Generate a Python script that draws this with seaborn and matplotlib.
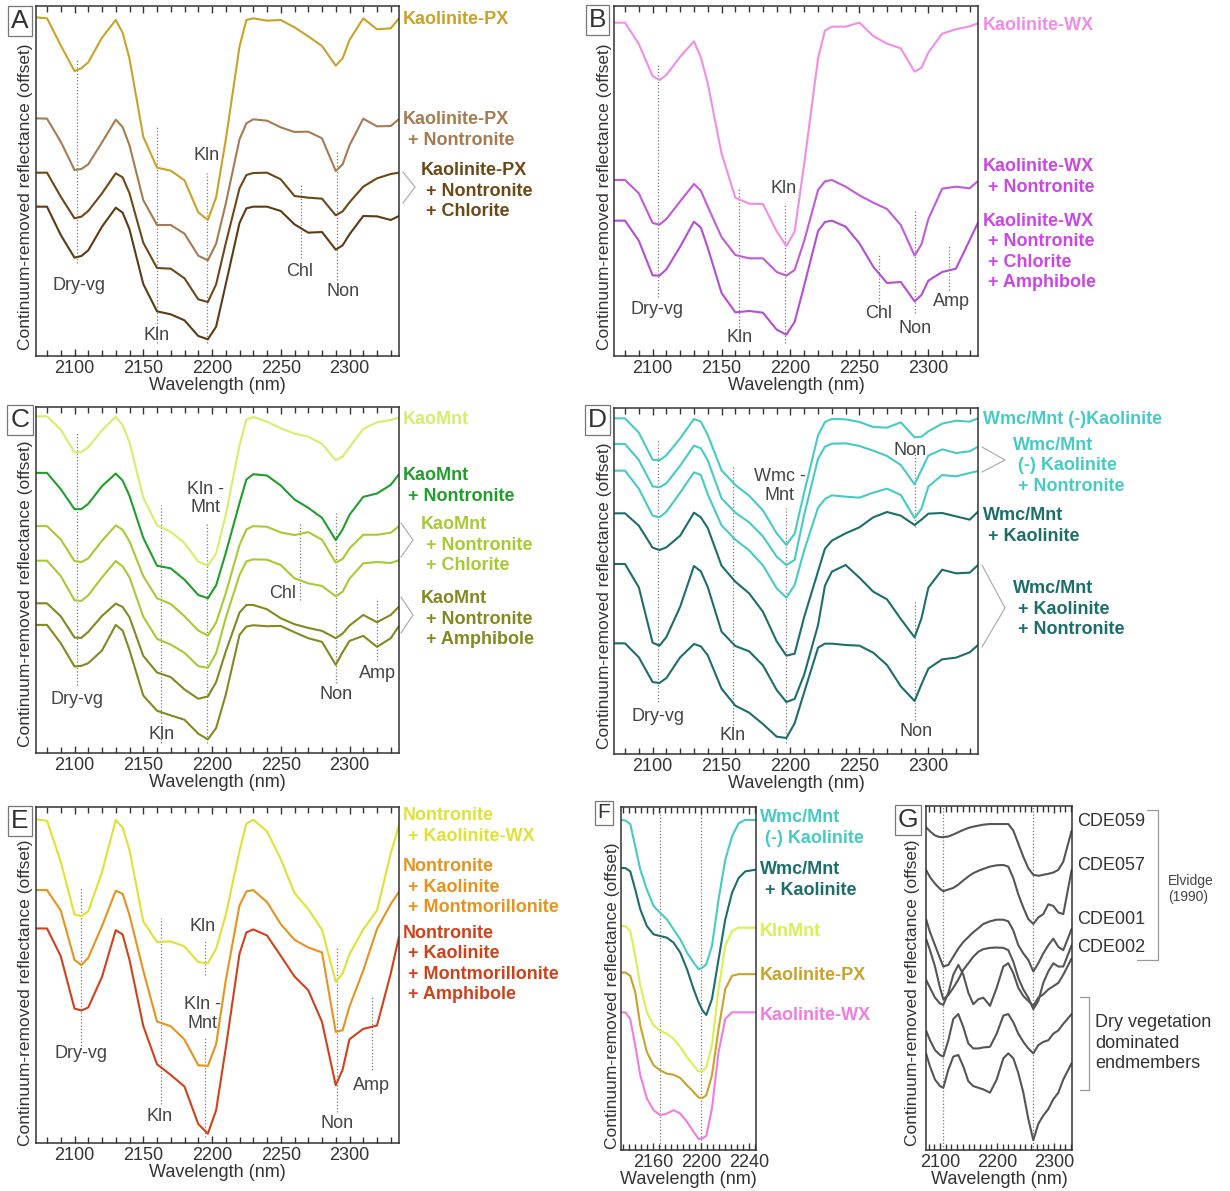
import matplotlib
matplotlib.use("Agg")
import matplotlib.pyplot as plt
from matplotlib.ticker import MultipleLocator
from matplotlib.lines import Line2D
import seaborn as sns

sns.set_theme(style="ticks")
plt.rcParams["font.family"] = ["Liberation Sans", "DejaVu Sans"]

# ---------------------------------------------------------------- data
# shared wavelength grid (nm) for panels A-E
WL = [2072, 2080, 2090, 2100, 2105, 2110, 2120, 2130, 2135, 2140, 2150, 2160,
      2170, 2180, 2190, 2197, 2203, 2210, 2220, 2225, 2230, 2240, 2250, 2260,
      2270, 2280, 2290, 2295, 2300, 2310, 2320, 2330, 2336]

# A: Kaolinite-PX group
A_kaolinite_px = [1.016, 1.013, 0.932, 0.855, 0.863, 0.881, 0.955, 1.008, 0.970, 0.892, 0.658, 0.565, 0.556, 0.527, 0.431, 0.408, 0.476, 0.648, 0.928, 1.008, 1.013, 1.006, 1.008, 0.986, 0.959, 0.930, 0.871, 0.893, 0.948, 1.013, 0.980, 0.983, 1.013]
A_kaolinite_px_non = [0.713, 0.712, 0.643, 0.558, 0.561, 0.575, 0.641, 0.709, 0.687, 0.632, 0.468, 0.393, 0.393, 0.367, 0.301, 0.287, 0.337, 0.457, 0.650, 0.698, 0.710, 0.706, 0.686, 0.672, 0.673, 0.653, 0.555, 0.575, 0.632, 0.712, 0.689, 0.690, 0.711]
A_kaolinite_px_non_chl_1 = [0.550, 0.550, 0.478, 0.413, 0.418, 0.435, 0.488, 0.548, 0.536, 0.488, 0.340, 0.264, 0.262, 0.233, 0.170, 0.162, 0.215, 0.338, 0.503, 0.543, 0.549, 0.550, 0.530, 0.480, 0.475, 0.472, 0.422, 0.434, 0.461, 0.508, 0.533, 0.546, 0.550]
A_kaolinite_px_non_chl_2 = [0.448, 0.448, 0.363, 0.295, 0.300, 0.317, 0.388, 0.445, 0.430, 0.380, 0.216, 0.134, 0.125, 0.107, 0.060, 0.050, 0.088, 0.215, 0.399, 0.443, 0.448, 0.448, 0.435, 0.395, 0.370, 0.372, 0.319, 0.332, 0.365, 0.420, 0.419, 0.408, 0.420]

# B: Kaolinite-WX group
B_kaolinite_wx = [1.000, 1.000, 0.936, 0.840, 0.828, 0.843, 0.898, 0.944, 0.896, 0.818, 0.608, 0.475, 0.457, 0.456, 0.374, 0.330, 0.373, 0.578, 0.893, 0.976, 0.988, 0.988, 1.000, 0.960, 0.937, 0.923, 0.853, 0.865, 0.910, 0.967, 0.980, 0.989, 0.998]
B_kaolinite_wx_non = [0.528, 0.528, 0.488, 0.399, 0.394, 0.411, 0.464, 0.516, 0.496, 0.448, 0.357, 0.303, 0.293, 0.293, 0.252, 0.241, 0.258, 0.346, 0.498, 0.524, 0.528, 0.508, 0.482, 0.460, 0.441, 0.393, 0.301, 0.335, 0.411, 0.502, 0.508, 0.503, 0.525]
B_kaolinite_wx_non_chl_amp = [0.406, 0.406, 0.346, 0.242, 0.241, 0.260, 0.328, 0.403, 0.385, 0.325, 0.189, 0.131, 0.135, 0.130, 0.079, 0.064, 0.102, 0.212, 0.375, 0.402, 0.406, 0.388, 0.338, 0.268, 0.219, 0.222, 0.164, 0.183, 0.226, 0.252, 0.262, 0.348, 0.400]

# C: KaoMnt group
C_kaomnt = [1.012, 1.012, 0.972, 0.904, 0.905, 0.919, 0.970, 1.011, 0.985, 0.934, 0.768, 0.684, 0.665, 0.631, 0.575, 0.563, 0.600, 0.715, 0.924, 1.002, 1.010, 0.996, 0.976, 0.960, 0.951, 0.929, 0.880, 0.891, 0.919, 0.974, 0.994, 1.001, 1.008]
C_kaomnt_non = [0.842, 0.842, 0.793, 0.733, 0.733, 0.749, 0.802, 0.840, 0.819, 0.773, 0.647, 0.563, 0.555, 0.521, 0.475, 0.465, 0.504, 0.601, 0.751, 0.822, 0.838, 0.834, 0.804, 0.762, 0.737, 0.707, 0.640, 0.672, 0.716, 0.770, 0.780, 0.806, 0.838]
C_kaomnt_non_chl_1 = [0.682, 0.682, 0.642, 0.577, 0.574, 0.585, 0.638, 0.684, 0.671, 0.636, 0.532, 0.465, 0.448, 0.411, 0.368, 0.353, 0.392, 0.480, 0.625, 0.672, 0.682, 0.680, 0.663, 0.655, 0.664, 0.641, 0.572, 0.583, 0.615, 0.656, 0.656, 0.662, 0.682]
C_kaomnt_non_chl_2 = [0.578, 0.578, 0.532, 0.459, 0.457, 0.474, 0.528, 0.577, 0.561, 0.528, 0.410, 0.343, 0.326, 0.301, 0.261, 0.256, 0.300, 0.406, 0.535, 0.576, 0.582, 0.581, 0.565, 0.525, 0.510, 0.502, 0.471, 0.485, 0.524, 0.570, 0.574, 0.571, 0.580]
C_kaomnt_non_amp_1 = [0.450, 0.450, 0.411, 0.347, 0.346, 0.364, 0.412, 0.449, 0.439, 0.408, 0.292, 0.242, 0.228, 0.191, 0.163, 0.170, 0.213, 0.305, 0.422, 0.445, 0.445, 0.432, 0.405, 0.387, 0.376, 0.367, 0.345, 0.359, 0.383, 0.415, 0.393, 0.415, 0.440]
C_kaomnt_non_amp_2 = [0.385, 0.385, 0.330, 0.260, 0.262, 0.270, 0.308, 0.385, 0.368, 0.309, 0.173, 0.127, 0.113, 0.100, 0.058, 0.041, 0.075, 0.175, 0.355, 0.380, 0.384, 0.381, 0.382, 0.363, 0.345, 0.334, 0.265, 0.303, 0.337, 0.352, 0.319, 0.345, 0.382]

# D: Wmc/Mnt group
D_wmc_kln = [1.007, 1.007, 0.964, 0.883, 0.881, 0.896, 0.947, 1.005, 0.997, 0.957, 0.851, 0.807, 0.775, 0.731, 0.662, 0.627, 0.661, 0.786, 0.956, 0.996, 1.005, 1.004, 0.996, 0.981, 0.979, 0.995, 0.950, 0.952, 0.968, 0.991, 1.000, 0.997, 1.007]
D_wmc_kln_non_1 = [0.930, 0.930, 0.882, 0.803, 0.800, 0.812, 0.865, 0.925, 0.917, 0.881, 0.767, 0.724, 0.695, 0.653, 0.592, 0.567, 0.582, 0.719, 0.886, 0.922, 0.931, 0.932, 0.924, 0.910, 0.894, 0.867, 0.809, 0.852, 0.895, 0.914, 0.903, 0.908, 0.922]
D_wmc_kln_non_2 = [0.850, 0.850, 0.796, 0.715, 0.710, 0.727, 0.784, 0.845, 0.837, 0.779, 0.686, 0.643, 0.611, 0.566, 0.497, 0.469, 0.507, 0.612, 0.739, 0.765, 0.776, 0.772, 0.769, 0.784, 0.796, 0.777, 0.708, 0.736, 0.802, 0.837, 0.833, 0.843, 0.849]
D_wmc_plus_kln = [0.722, 0.722, 0.685, 0.619, 0.612, 0.620, 0.655, 0.724, 0.710, 0.678, 0.565, 0.517, 0.482, 0.427, 0.338, 0.295, 0.301, 0.412, 0.548, 0.616, 0.640, 0.662, 0.680, 0.710, 0.726, 0.715, 0.687, 0.703, 0.721, 0.723, 0.713, 0.703, 0.727]
D_wmc_plus_kln_non_1 = [0.570, 0.570, 0.500, 0.334, 0.325, 0.351, 0.442, 0.564, 0.548, 0.501, 0.367, 0.324, 0.308, 0.266, 0.192, 0.156, 0.165, 0.239, 0.387, 0.505, 0.547, 0.567, 0.529, 0.487, 0.464, 0.405, 0.350, 0.407, 0.499, 0.553, 0.542, 0.544, 0.567]
D_wmc_plus_kln_non_2 = [0.332, 0.332, 0.290, 0.216, 0.213, 0.228, 0.290, 0.330, 0.323, 0.296, 0.196, 0.145, 0.124, 0.090, 0.052, 0.048, 0.092, 0.186, 0.319, 0.331, 0.331, 0.327, 0.325, 0.304, 0.267, 0.203, 0.159, 0.209, 0.256, 0.284, 0.289, 0.305, 0.327]

# E: Nontronite group
E_non_kwx = [0.970, 0.966, 0.843, 0.685, 0.680, 0.694, 0.812, 0.968, 0.945, 0.878, 0.664, 0.602, 0.604, 0.589, 0.542, 0.539, 0.582, 0.683, 0.875, 0.957, 0.969, 0.934, 0.851, 0.749, 0.701, 0.639, 0.483, 0.508, 0.566, 0.640, 0.697, 0.868, 0.953]
E_non_kln_mnt = [0.758, 0.758, 0.697, 0.549, 0.533, 0.555, 0.650, 0.756, 0.747, 0.683, 0.517, 0.364, 0.350, 0.310, 0.233, 0.231, 0.296, 0.487, 0.712, 0.754, 0.758, 0.722, 0.656, 0.609, 0.586, 0.571, 0.333, 0.338, 0.409, 0.517, 0.641, 0.716, 0.753]
E_non_kln_mnt_amp = [0.643, 0.643, 0.560, 0.403, 0.397, 0.406, 0.498, 0.638, 0.625, 0.549, 0.351, 0.236, 0.204, 0.169, 0.057, 0.028, 0.098, 0.284, 0.567, 0.631, 0.640, 0.622, 0.561, 0.499, 0.458, 0.363, 0.173, 0.220, 0.311, 0.342, 0.352, 0.508, 0.618]

# F: 2200 nm feature of the main endmembers
WL_F = [2133.1, 2136.7, 2140.8, 2145.0, 2149.2, 2154.7, 2160.3, 2165.8, 2171.4, 2176.9, 2182.5, 2188.1,
        2193.6, 2197.8, 2201.1, 2204.2, 2208.9, 2214.4, 2220.0, 2225.6, 2231.1, 2236.7, 2245.6]
F_wmc_kln = [0.995, 0.993, 0.983, 0.915, 0.845, 0.785, 0.735, 0.715, 0.695, 0.665, 0.635, 0.595, 0.565, 0.545, 0.550, 0.560, 0.615, 0.755, 0.875, 0.945, 0.985, 0.995, 0.995]
F_wmc_plus_kln = [0.850, 0.850, 0.840, 0.785, 0.725, 0.675, 0.650, 0.645, 0.640, 0.625, 0.595, 0.545, 0.485, 0.445, 0.420, 0.407, 0.455, 0.575, 0.695, 0.775, 0.820, 0.840, 0.845]
F_klnmnt = [0.675, 0.675, 0.660, 0.585, 0.495, 0.415, 0.375, 0.360, 0.350, 0.335, 0.310, 0.280, 0.255, 0.237, 0.237, 0.250, 0.315, 0.485, 0.615, 0.660, 0.670, 0.670, 0.670]
F_kaolinite_px = [0.535, 0.535, 0.525, 0.475, 0.375, 0.295, 0.255, 0.240, 0.230, 0.227, 0.217, 0.195, 0.175, 0.158, 0.157, 0.165, 0.225, 0.365, 0.485, 0.525, 0.530, 0.530, 0.530]
F_kaolinite_wx = [0.415, 0.415, 0.395, 0.315, 0.225, 0.155, 0.120, 0.105, 0.110, 0.120, 0.110, 0.085, 0.055, 0.033, 0.035, 0.043, 0.125, 0.295, 0.395, 0.415, 0.415, 0.415, 0.415]

# G: dry plant material library spectra and dry-vegetation endmembers
WL_G = [2075.4, 2082.4, 2091.2, 2100.0, 2105.8, 2114.6, 2123.3, 2132.1, 2140.9, 2149.7, 2158.4, 2167.2,
        2176.0, 2187.7, 2199.4, 2211.1, 2219.8, 2228.6, 2237.4, 2246.2, 2254.9, 2263.7, 2272.5, 2281.2,
        2290.0, 2298.8, 2307.6, 2316.3, 2331.0]
G_cde059 = [0.985, 0.973, 0.960, 0.955, 0.955, 0.957, 0.963, 0.970, 0.977, 0.983, 0.987, 0.990, 0.993, 0.995, 0.995, 0.995, 0.995, 0.975, 0.935, 0.895, 0.860, 0.840, 0.837, 0.840, 0.843, 0.847, 0.855, 0.880, 0.975]
G_cde057 = [0.855, 0.833, 0.813, 0.797, 0.790, 0.795, 0.800, 0.810, 0.823, 0.835, 0.845, 0.852, 0.858, 0.865, 0.869, 0.870, 0.865, 0.830, 0.780, 0.740, 0.705, 0.690, 0.710, 0.720, 0.750, 0.745, 0.725, 0.720, 0.855]
G_cde001 = [0.705, 0.665, 0.625, 0.585, 0.560, 0.565, 0.590, 0.615, 0.635, 0.650, 0.665, 0.677, 0.690, 0.698, 0.703, 0.703, 0.698, 0.670, 0.625, 0.600, 0.580, 0.545, 0.570, 0.600, 0.625, 0.645, 0.620, 0.610, 0.675]
G_cde002 = [0.645, 0.610, 0.560, 0.495, 0.460, 0.473, 0.495, 0.520, 0.550, 0.570, 0.590, 0.605, 0.613, 0.617, 0.618, 0.617, 0.610, 0.575, 0.525, 0.490, 0.465, 0.430, 0.455, 0.510, 0.545, 0.570, 0.560, 0.560, 0.625]
G_dryveg_1 = [0.520, 0.495, 0.465, 0.447, 0.443, 0.480, 0.535, 0.565, 0.535, 0.480, 0.445, 0.460, 0.465, 0.440, 0.495, 0.560, 0.570, 0.540, 0.495, 0.470, 0.455, 0.440, 0.465, 0.475, 0.490, 0.500, 0.510, 0.535, 0.585]
G_dryveg_2 = [0.365, 0.335, 0.305, 0.290, 0.285, 0.335, 0.400, 0.415, 0.375, 0.325, 0.310, 0.310, 0.313, 0.315, 0.355, 0.410, 0.415, 0.390, 0.355, 0.330, 0.310, 0.295, 0.320, 0.330, 0.335, 0.355, 0.365, 0.385, 0.415]
G_dryveg_3 = [0.295, 0.255, 0.215, 0.195, 0.190, 0.245, 0.285, 0.290, 0.255, 0.210, 0.195, 0.190, 0.185, 0.175, 0.215, 0.280, 0.295, 0.280, 0.235, 0.175, 0.095, 0.030, 0.080, 0.105, 0.125, 0.155, 0.175, 0.215, 0.265]

# ---------------------------------------------------------------- colours
GOLD, TAN, BROWN, DKBROWN = "#c9a227", "#a57b4f", "#6e4716", "#5c3a12"
PINK, PURPLE, PURPLE2 = "#f08de6", "#c25ad8", "#b54cd4"
LIME, GREEN, YGREEN, OLIVE = "#d6ee6a", "#1f9e2a", "#a6cb32", "#83891f"
CYAN, TEAL = "#45cbc4", "#1b6e6a"
YELLOW, ORANGE, RED = "#dfe233", "#e8921e", "#d0411a"
GREY = "#555555"
TXT = "#444444"

W, H = 1230, 1191
fig = plt.figure(figsize=(W / 100, H / 100), dpi=100)


def add_axes(x0, y0, x1, y1):
    return fig.add_axes([x0 / W, 1 - y1 / H, (x1 - x0) / W, (y1 - y0) / H])


def style(ax, xlim, ylim, major, minor, ylab_xy):
    ax.set_xlim(*xlim)
    ax.set_ylim(*ylim)
    ax.set_yticks([])
    ax.xaxis.set_major_locator(MultipleLocator(major))
    ax.xaxis.set_minor_locator(MultipleLocator(minor))
    ax.tick_params(axis="x", which="both", direction="in", top=True, bottom=True,
                   labelsize=13, labelcolor="#333333", color="#333333", pad=3)
    ax.tick_params(axis="x", which="major", length=5, width=1)
    ax.tick_params(axis="x", which="minor", length=4, width=1)
    for s in ax.spines.values():
        s.set_color("#333333")
        s.set_linewidth(1.1)
    ax.set_xlabel("Wavelength (nm)", fontsize=13, color="#333333", labelpad=0)
    ax.set_ylabel("Continuum-removed reflectance (offset)", fontsize=12.5,
                  color="#333333")
    ax.yaxis.set_label_coords(*ylab_xy)


def curves(ax, wl, series):
    for vals, col in series:
        sns.lineplot(x=wl, y=vals, ax=ax, color=col, lw=1.5, sort=False,
                     estimator=None, legend=False)


def guides(ax, items):
    for x, y0, y1 in items:
        ax.vlines(x, y0, y1, colors="#7a7a7a", linestyles=(0, (1, 1.6)), lw=0.9, zorder=0)


def notes(ax, items):
    for s, x, y in items:
        ax.text(x, y, s, ha="center", va="center", fontsize=13, color=TXT,
                linespacing=1.15)


def letter(cx, cy, s, size=19):
    fig.text(cx / W, 1 - cy / H, s, ha="center", va="center", fontsize=size,
             color="#333333",
             bbox=dict(boxstyle="square,pad=0.12", fc="white", ec="#777777", lw=0.9))


def tag(x, cy, s, col, bold=True, size=13):
    fig.text(x / W, 1 - cy / H, s, ha="left", va="center", fontsize=size,
             fontweight="bold" if bold else "normal", color=col, linespacing=1.25)


def chevron(x0, ytop, x1, ymid, ybot):
    fig.add_artist(Line2D([x0 / W, x1 / W, x0 / W],
                          [1 - ytop / H, 1 - ymid / H, 1 - ybot / H],
                          color="#b0b0b0", lw=0.9))


def bracket(x, ytop, ybot, xt_top, xt_bot):
    fig.add_artist(Line2D([xt_top / W, x / W, x / W, xt_bot / W],
                          [1 - ytop / H, 1 - ytop / H, 1 - ybot / H, 1 - ybot / H],
                          color="#999999", lw=0.9))


XL = (2072, 2336)

# ---------------------------------------------------------------- A
ax = add_axes(36, 6, 399, 356)
style(ax, XL, (0, 1.05), 50, 10, (-0.008, 0.454))
guides(ax, [(2102, 0.278, 0.888), (2160, 0.038, 0.688), (2196, 0.038, 0.548),
            (2265, 0.293, 0.513), (2291, 0.228, 0.618)])
curves(ax, WL, [(A_kaolinite_px, GOLD), (A_kaolinite_px_non, TAN),
                (A_kaolinite_px_non_chl_1, BROWN), (A_kaolinite_px_non_chl_2, DKBROWN)])
notes(ax, [("Dry-vg", 2103, 0.213), ("Kln", 2160, 0.063), ("Kln", 2196, 0.603),
           ("Chl", 2264, 0.253), ("Non", 2295, 0.193)])
letter(20, 21, "A")
tag(403, 20, "Kaolinite-PX", GOLD)
tag(403, 130, "Kaolinite-PX\n + Nontronite", TAN)
tag(421, 191, "Kaolinite-PX\n + Nontronite\n + Chlorite", BROWN)
chevron(403, 172, 415, 187, 203)

# ---------------------------------------------------------------- B
ax = add_axes(614, 6, 978, 356)
style(ax, XL, (0, 1.05), 50, 10, (-0.006, 0.454))
guides(ax, [(2104, 0.178, 0.873), (2163, 0.088, 0.503), (2196, 0.038, 0.458),
            (2264, 0.163, 0.303), (2290, 0.128, 0.438), (2315, 0.198, 0.333)])
curves(ax, WL, [(B_kaolinite_wx, PINK), (B_kaolinite_wx_non, PURPLE),
                (B_kaolinite_wx_non_chl_amp, PURPLE2)])
notes(ax, [("Dry-vg", 2103, 0.138), ("Kln", 2163, 0.056), ("Kln", 2195, 0.503),
           ("Chl", 2264, 0.128), ("Non", 2290, 0.083), ("Amp", 2317, 0.163)])
letter(597.5, 20, "B")
tag(983, 26, "Kaolinite-WX", "#f08ce8")
tag(983, 177, "Kaolinite-WX\n + Nontronite", "#cc46e4")
tag(983, 252, "Kaolinite-WX\n + Nontronite\n + Chlorite\n + Amphibole", "#cc46e4")

# ---------------------------------------------------------------- C
ax = add_axes(36, 407, 399, 753)
style(ax, XL, (0, 1.04), 50, 10, (-0.008, 0.460))
guides(ax, [(2102, 0.205, 0.965), (2163, 0.030, 0.745), (2196, 0.030, 0.695),
            (2264, 0.460, 0.690), (2290, 0.210, 0.720), (2320, 0.280, 0.465)])
curves(ax, WL, [(C_kaomnt, LIME), (C_kaomnt_non, GREEN),
                (C_kaomnt_non_chl_1, YGREEN), (C_kaomnt_non_chl_2, YGREEN),
                (C_kaomnt_non_amp_1, OLIVE), (C_kaomnt_non_amp_2, OLIVE)])
notes(ax, [("Dry-vg", 2102, 0.160), ("Kln", 2163, 0.055), ("Kln -\nMnt", 2195, 0.765),
           ("Chl", 2251, 0.480), ("Non", 2290, 0.175), ("Amp", 2320, 0.240)])
letter(20, 420, "C")
tag(403, 419, "KaoMnt", "#d2ee6c")
tag(403, 486, "KaoMnt\n + Nontronite", GREEN)
tag(421, 545, "KaoMnt\n + Nontronite\n + Chlorite", YGREEN)
tag(421, 619, "KaoMnt\n + Nontronite\n + Amphibole", OLIVE)
chevron(401, 523, 413, 540, 557)
chevron(401, 597, 413, 615, 633)

# ---------------------------------------------------------------- D
ax = add_axes(614, 408, 978, 754)
style(ax, XL, (0, 1.038), 50, 10, (-0.006, 0.457))
guides(ax, [(2104, 0.157, 0.942), (2158, 0.087, 0.862), (2197, 0.032, 0.737),
            (2290, 0.682, 0.917), (2290, 0.102, 0.462)])
curves(ax, WL, [(D_wmc_kln, CYAN), (D_wmc_kln_non_1, CYAN), (D_wmc_kln_non_2, CYAN),
                (D_wmc_plus_kln, TEAL), (D_wmc_plus_kln_non_1, TEAL),
                (D_wmc_plus_kln_non_2, TEAL)])
notes(ax, [("Dry-vg", 2104, 0.112), ("Kln", 2158, 0.057), ("Wmc -\nMnt", 2192, 0.804),
           ("Non", 2287, 0.910), ("Non", 2291, 0.067)])
letter(597.5, 420, "D")
tag(983, 419, "Wmc/Mnt (-)Kaolinite", CYAN)
tag(1013, 466, "Wmc/Mnt\n (-) Kaolinite\n + Nontronite", CYAN)
tag(983, 526, "Wmc/Mnt\n + Kaolinite", TEAL)
tag(1013, 609, "Wmc/Mnt\n + Kaolinite\n + Nontronite", TEAL)
chevron(982, 447, 1005, 460, 472)
chevron(982, 565, 1005, 608, 647)

# ---------------------------------------------------------------- E
ax = add_axes(36, 807, 399, 1143)
style(ax, XL, (0, 1.007), 50, 10, (-0.008, 0.446))
guides(ax, [(2105, 0.283, 0.763), (2163, 0.118, 0.673), (2195, 0.503, 0.608),
            (2195, 0.018, 0.318), (2291, 0.093, 0.588), (2316, 0.218, 0.438)])
curves(ax, WL, [(E_non_kwx, YELLOW), (E_non_kln_mnt, ORANGE), (E_non_kln_mnt_amp, RED)])
notes(ax, [("Dry-vg", 2105, 0.268), ("Kln", 2162, 0.078), ("Kln", 2193, 0.648),
           ("Kln -\nMnt", 2193, 0.388), ("Amp", 2316, 0.173), ("Non", 2291, 0.058)])
letter(20, 821, "E")
tag(403, 826, "Nontronite\n + Kaolinite-WX", YELLOW)
tag(403, 887, "Nontronite\n + Kaolinite\n + Montmorillonite", ORANGE)
tag(403, 964, "Nontronite\n + Kaolinite\n + Montmorillonite\n + Amphibole", RED)

# ---------------------------------------------------------------- F
ax = add_axes(621, 807, 756, 1150)
style(ax, (2133.1, 2245.6), (0, 1.034), 40, 5, (-0.007, 0.449))
guides(ax, [(2165.8, 0, 1.034), (2200.0, 0, 1.034)])
curves(ax, WL_F, [(F_wmc_kln, CYAN), (F_wmc_plus_kln, TEAL), (F_klnmnt, "#d8f050"),
                  (F_kaolinite_px, GOLD), (F_kaolinite_wx, "#f07ce0")])
letter(604, 813, "F", size=15)
tag(760, 828, "Wmc/Mnt\n (-) Kaolinite", CYAN)
tag(760, 880, "Wmc/Mnt\n + Kaolinite", TEAL)
tag(760, 931, "KlnMnt", "#d8f050")
tag(760, 976, "Kaolinite-PX", GOLD)
tag(760, 1015, "Kaolinite-WX", "#f07ce0")

# ---------------------------------------------------------------- G
ax = add_axes(926, 806, 1072, 1150)
style(ax, (2075.4, 2331.6), (0, 1.05), 100, 10, (-0.041, 0.456))
guides(ax, [(2105.8, 0, 1.05), (2263.7, 0, 1.05)])
curves(ax, WL_G, [(G_cde059, GREY), (G_cde057, GREY), (G_cde001, GREY), (G_cde002, GREY),
                  (G_dryveg_1, GREY), (G_dryveg_2, GREY), (G_dryveg_3, GREY)])
letter(908, 820, "G")
for s, cy in [("CDE059", 822), ("CDE057", 866), ("CDE001", 920), ("CDE002", 947)]:
    tag(1077, cy, s, "#333333", bold=False)
bracket(1158, 810, 960, 1147, 1137)
tag(1168, 889, "Elvidge\n(1990)", "#444444", bold=False, size=10)
bracket(1089, 997, 1090, 1080, 1080)
tag(1095, 1043, "Dry vegetation\ndominated\nendmembers", "#333333", bold=False)

fig.savefig("out.png", dpi=100)
